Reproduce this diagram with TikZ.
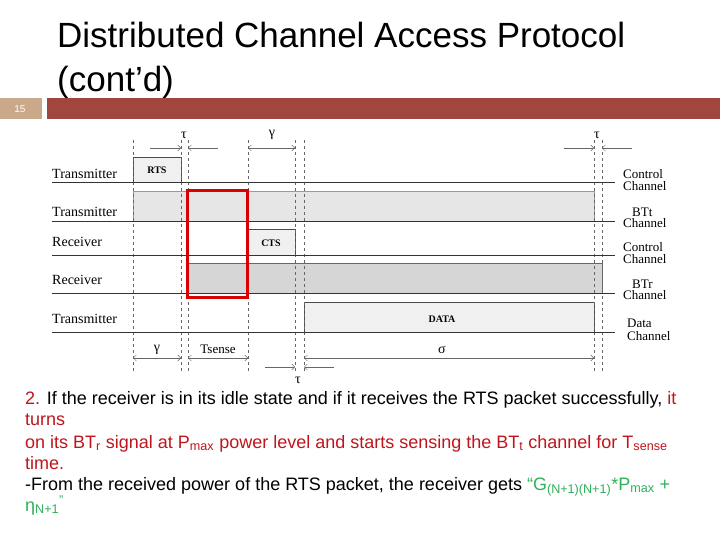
\documentclass[tikz,border=0pt]{standalone}
\usepackage{fontspec}
\setmainfont{Liberation Sans}
\newfontfamily\serif{Liberation Serif}
\usetikzlibrary{arrows.meta}
\definecolor{barred}{HTML}{A0463F}
\definecolor{numtan}{HTML}{C9A98A}
\definecolor{txtred}{HTML}{C0141C}
\definecolor{txtgreen}{HTML}{2EAF5A}
\definecolor{lgray}{HTML}{E6E6E6}
\definecolor{mgray}{HTML}{D6D6D6}
\definecolor{vlgray}{HTML}{F0F0F0}
\tikzset{
  chan/.style={line width=0.9pt,black!80},
  dashv/.style={dashed,black!60,line width=0.4pt},
  dim/.style={-{Straight Barb[length=3pt]},black!60,line width=0.5pt},
  lab/.style={font=\serif\fontsize{14}{14}\selectfont,anchor=west,inner sep=0pt},
  rlab/.style={font=\serif\fontsize{13}{12.5}\selectfont,align=left,anchor=west,inner sep=0pt},
  pkt/.style={font=\serif\bfseries\fontsize{10}{10}\selectfont,inner sep=0pt},
  sym/.style={font=\serif\fontsize{14}{14}\selectfont,inner sep=0pt},
  body/.style={font=\fontsize{18}{20}\selectfont,anchor=base west,inner sep=0pt}
}
\begin{document}
\begin{tikzpicture}[x=1pt,y=-1pt]
\useasboundingbox (0,0) rectangle (720,540);
% header
\node[anchor=base west,inner sep=0pt,font=\fontsize{35}{35}\selectfont] (t1) at (57,48) {Distributed Channel Access Protocol};
\node[anchor=base west,inner sep=0pt,font=\fontsize{35}{35}\selectfont] (t2) at (57,92) {(cont'd)};
\fill[numtan] (0,98) rectangle (42,119);
\node[font=\fontsize{10}{10}\selectfont,text=white] (num) at (20,109) {15};
\fill[barred] (47,98) rectangle (720,119);
% packets / bursts
\filldraw[fill=vlgray,draw=black!70,line width=0.5pt] (133,182) -- (133,157) -- (181,157) -- (181,182);
\node[pkt] (rts) at (157,170) {RTS};
\filldraw[fill=lgray,draw=black!40,line width=0.4pt] (133,221) rectangle (594,191);
\filldraw[fill=vlgray,draw=black!70,line width=0.5pt] (248,255) -- (248,229) -- (295,229) -- (295,255);
\node[pkt] (cts) at (271,243) {CTS};
\filldraw[fill=mgray,draw=black!60,line width=0.6pt] (188,293) rectangle (602,263);
\filldraw[fill=vlgray,draw=black!70,line width=0.5pt] (304,332) -- (304,302) -- (594,302) -- (594,332);
\node[pkt] (data) at (442,319) {DATA};
% dashed verticals
\foreach \x in {133,181,188,248,295,304,594,602}
  \draw[dashv] (\x,140) -- (\x,372);
% channel lines
\foreach \y in {182,221,255,293,332}
  \draw[chan] (52,\y) -- (615,\y);
% left labels
\node[lab] (l1) at (52,174) {Transmitter};
\node[lab] (l2) at (52,212) {Transmitter};
\node[lab] (l3) at (52,242) {Receiver};
\node[lab] (l4) at (52,280) {Receiver};
\node[lab] (l5) at (52,319) {Transmitter};
% right labels
\node[rlab] (r1) at (623,180) {Control\\Channel};
\node[rlab] (r2) at (623,218) {\hspace*{9pt}BTt\\[-1.5pt]Channel};
\node[rlab] (r3) at (623,253) {Control\\Channel};
\node[rlab] (r4) at (623,290) {\hspace*{9pt}BTr\\[-1.5pt]Channel};
\node[rlab] (r5) at (627,330) {Data\\Channel};
% red box
\draw[red!85!black,line width=3pt] (187,191) rectangle (247,297);
% top dims
\coordinate (a1) at (150,148); \coordinate (a1e) at (181,148);
\coordinate (a2) at (218,148); \coordinate (a2e) at (188,148);
\draw[dim] (a1) -- (a1e); \draw[dim] (a2) -- (a2e);
\node[sym] (tau1) at (184,135) {τ};
\coordinate (g1) at (248,148); \coordinate (g2) at (295,148);
\draw[dim] (g1) -- (g2); \draw[dim] (g2) -- (g1);
\node[sym] (gam1) at (272,135) {γ};
\coordinate (c1) at (564,148); \coordinate (c1e) at (594,148);
\coordinate (c2) at (632,148); \coordinate (c2e) at (602,148);
\draw[dim] (c1) -- (c1e); \draw[dim] (c2) -- (c2e);
\node[sym] (tau2) at (597,135) {τ};
% bottom dims
\coordinate (b1) at (133,358); \coordinate (b2) at (181,358);
\draw[dim] (b1) -- (b2); \draw[dim] (b2) -- (b1);
\node[sym] (gam2) at (157,350) {γ};
\coordinate (s1) at (188,358); \coordinate (s2) at (248,358);
\draw[dim] (s1) -- (s2); \draw[dim] (s2) -- (s1);
\node[font=\serif\fontsize{13}{13}\selectfont,inner sep=0pt] (ts) at (218,349) {Tsense};
\coordinate (d1) at (304,358); \coordinate (d2) at (594,358);
\draw[dim] (d1) -- (d2); \draw[dim] (d2) -- (d1);
\node[sym] (sig) at (442,350) {σ};
\coordinate (e1) at (265,367); \coordinate (e1e) at (295,367);
\coordinate (e2) at (334,367); \coordinate (e2e) at (304,367);
\draw[dim] (e1) -- (e1e); \draw[dim] (e2) -- (e2e);
\node[sym] (tau3) at (298,380) {τ};
% body text
\node[body] (p1) at (25,404) {\textcolor{txtred}{2.} If the receiver is in its idle state and if it receives the RTS packet successfully, \textcolor{txtred}{it}};
\node[body,text=txtred] (p2) at (25,425) {turns};
\node[body,text=txtred] (p3) at (25,448) {on its BT\textsubscript{r} signal at P\textsubscript{max} power level and starts sensing the BT\textsubscript{t} channel for T\textsubscript{sense}};
\node[body,text=txtred] (p4) at (25,469) {time.};
\node[body] (p5) at (25,490) {-From the received power of the RTS packet, the receiver gets \textcolor{txtgreen}{“G\textsubscript{(N+1)(N+1)}*P\textsubscript{max} +}};
\node[body,text=txtgreen] (p6) at (25,511) {η\textsubscript{N+1}\textsuperscript{”}};
\end{tikzpicture}
\end{document}
